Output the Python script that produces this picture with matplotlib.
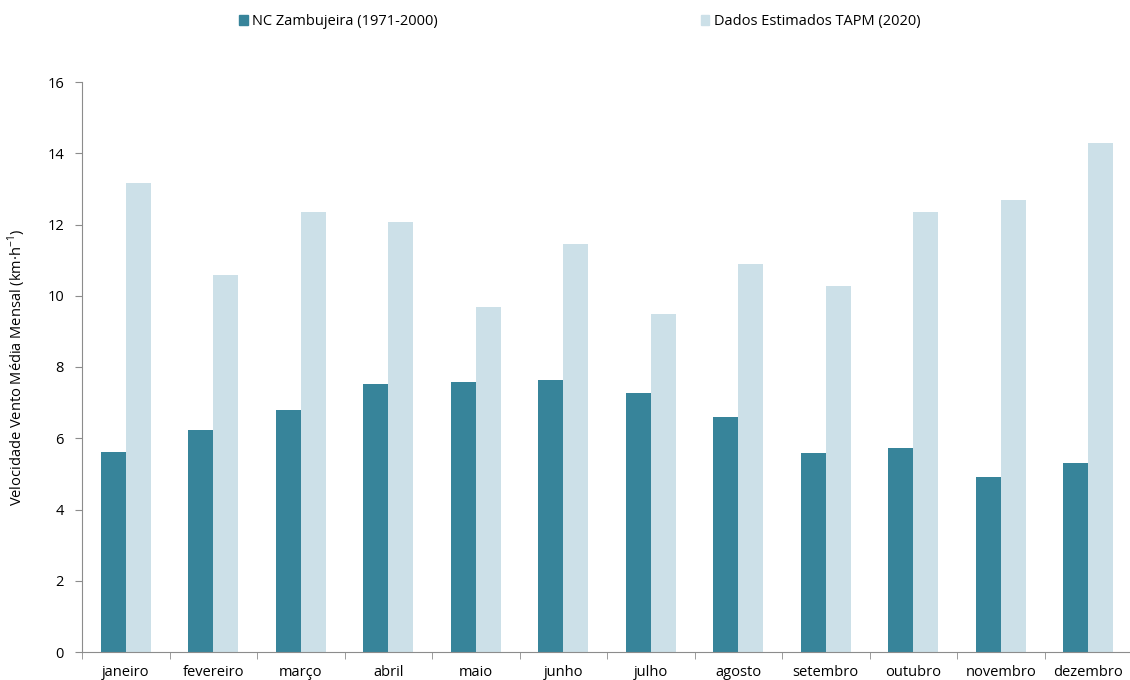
import matplotlib
matplotlib.use("Agg")
import matplotlib.pyplot as plt
import numpy as np
from matplotlib.patches import Patch

months = ["janeiro", "fevereiro", "março", "abril", "maio", "junho",
          "julho", "agosto", "setembro", "outubro", "novembro", "dezembro"]
nc_zambujeira = [5.61, 6.23, 6.79, 7.52, 7.58, 7.64, 7.27, 6.61, 5.59, 5.73, 4.92, 5.31]
tapm_2020 = [13.16, 10.58, 12.34, 12.08, 9.68, 11.44, 9.50, 10.89, 10.26, 12.35, 12.69, 14.28]
y_ticks = [0, 2, 4, 6, 8, 10, 12, 14, 16]

dark = "#37849A"
light = "#CCE0E8"
axis_grey = "#8C8C8C"

plt.rcParams["font.family"] = ["Open Sans", "DejaVu Sans"]

fig = plt.figure(figsize=(11.3, 6.8), dpi=100)
ax = fig.add_axes([82 / 1130, 1 - 652 / 680, (1132 - 82) / 1130, (652 - 82) / 680])

x = np.arange(len(months))
w = 25 / 87.5
ax.bar(x - w / 2, nc_zambujeira, width=w, color=dark, label="NC Zambujeira (1971-2000)")
ax.bar(x + w / 2, tapm_2020, width=w, color=light, label="Dados Estimados TAPM (2020)")

ax.set_xlim(-0.5, len(months) - 0.5)
ax.set_ylim(0, 16)
ax.set_yticks(y_ticks)
ax.tick_params(axis="y", labelsize=10.5, length=5, color=axis_grey, pad=8)

# category labels centred, tick marks on the boundaries between months
ax.set_xticks(x)
ax.set_xticklabels(months, fontsize=10.5)
ax.tick_params(axis="x", which="major", length=0, pad=9)
ax.set_xticks(np.arange(-0.5, len(months) - 0.4, 1), minor=True)
ax.tick_params(axis="x", which="minor", length=5, color=axis_grey)

for side in ("top", "right"):
    ax.spines[side].set_visible(False)
for side in ("left", "bottom"):
    ax.spines[side].set_color(axis_grey)

ax.set_ylabel("Velocidade Vento Média Mensal (km·h$^{\\mathregular{-1}}$)", fontsize=10.5, labelpad=14)

handles = [Patch(color=dark), Patch(color=light)]
fig.legend(handles, ["NC Zambujeira (1971-2000)", "Dados Estimados TAPM (2020)"],
           loc="center", bbox_to_anchor=(0.513, 0.968), ncol=2, frameon=False,
           fontsize=10.5, handlelength=0.6, handleheight=0.6, handletextpad=0.3,
           columnspacing=18.0)

fig.savefig("out.png", dpi=100)
